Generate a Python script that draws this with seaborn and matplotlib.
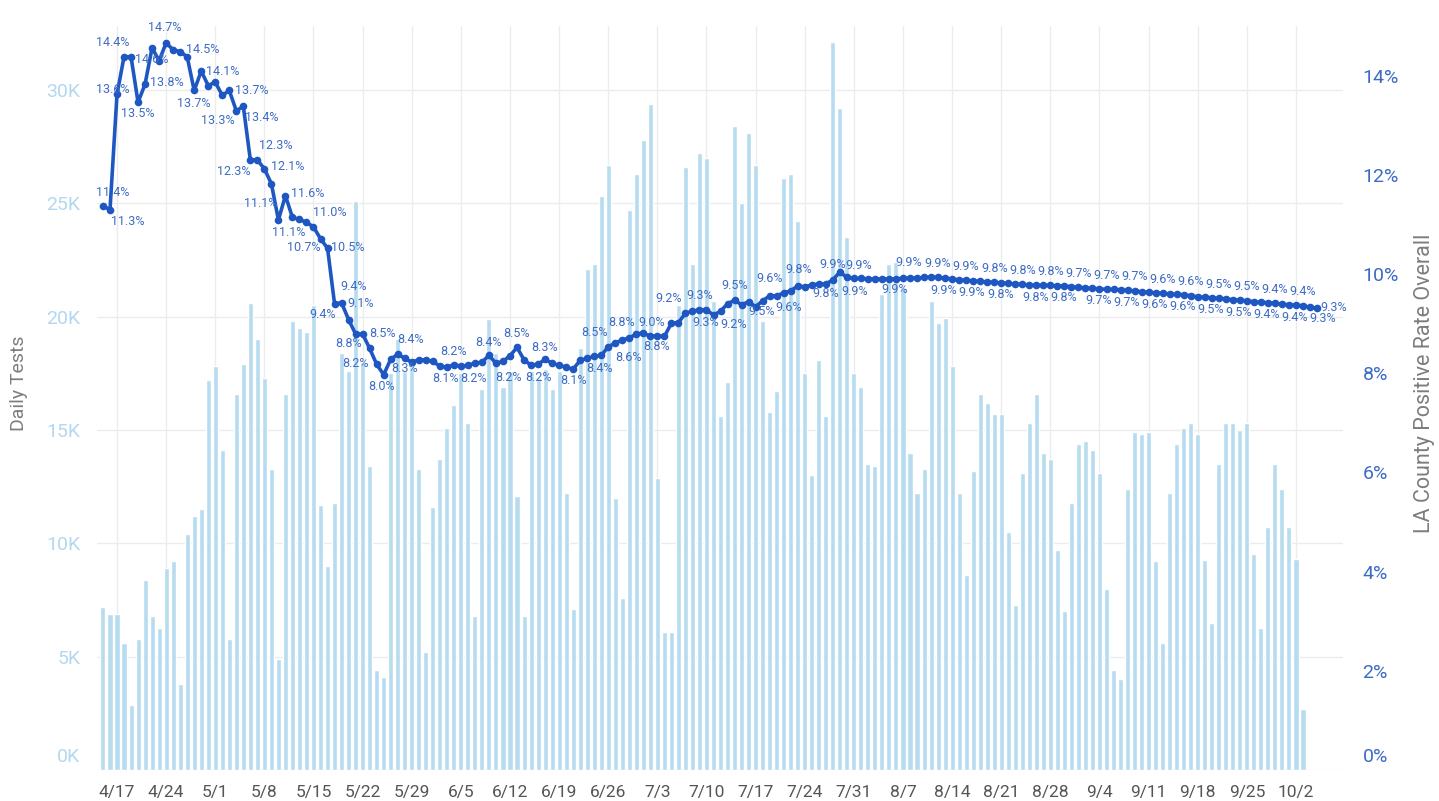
import numpy as np
import pandas as pd
import matplotlib
matplotlib.use('Agg')
import matplotlib.pyplot as plt
import matplotlib.transforms as mtransforms
import seaborn as sns

# Data
START_DATE = '2020-04-15'

# Daily tests, in thousands (4/15 .. 10/3)
daily_tests_k = [
    7.2, 6.9, 6.9, 5.6, 2.85, 5.8, 8.4, 6.8, 6.25, 8.9,
    9.2, 3.8, 10.4, 11.2, 11.5, 17.2, 17.8, 14.1, 5.8, 16.6,
    17.9, 20.6, 19.0, 17.3, 13.3, 4.9, 16.6, 19.8, 19.5, 19.3,
    20.5, 11.7, 9.0, 11.8, 18.4, 17.6, 25.1, 18.0, 13.4, 4.4,
    4.1, 17.5, 19.0, 17.6, 17.8, 13.3, 5.2, 11.6, 13.7, 15.1,
    16.1, 17.5, 15.3, 6.8, 16.8, 19.9, 18.4, 16.9, 17.6, 12.1,
    6.8, 17.6, 17.3, 17.7, 16.8, 17.6, 12.2, 7.1, 18.6, 22.1,
    22.3, 25.3, 26.7, 12.0, 7.6, 24.7, 26.3, 27.8, 29.4, 12.9,
    6.1, 6.1, 20.5, 26.6, 22.3, 27.2, 27.0, 20.7, 15.6, 17.1,
    28.4, 25.0, 28.1, 26.7, 19.8, 15.8, 16.7, 26.1, 26.3, 24.2,
    17.5, 13.0, 18.1, 15.6, 32.1, 29.2, 23.5, 17.5, 16.9, 13.5,
    13.4, 21.0, 22.3, 22.4, 21.3, 14.0, 12.2, 13.3, 20.7, 19.7,
    19.95, 17.8, 12.2, 8.6, 13.2, 16.6, 16.2, 15.7, 15.7, 10.5,
    7.3, 13.1, 15.3, 16.6, 14.0, 13.7, 9.7, 7.0, 11.8, 14.4,
    14.5, 14.1, 13.1, 8.0, 4.4, 4.0, 12.4, 14.9, 14.8, 14.9,
    9.2, 5.6, 12.2, 14.4, 15.1, 15.3, 14.8, 9.25, 6.5, 13.5,
    15.3, 15.3, 15.0, 15.3, 9.55, 6.25, 10.7, 13.5, 12.4, 10.7,
    9.3, 2.7,
]

# LA County positive rate overall, % (4/15 .. 10/5)
positive_rate = [
    11.38, 11.29, 13.62, 14.38, 14.38, 13.46, 13.83, 14.56, 14.30, 14.66,
    14.52, 14.48, 14.38, 13.70, 14.09, 13.80, 13.87, 13.60, 13.70, 13.29,
    13.38, 12.30, 12.30, 12.12, 11.82, 11.09, 11.58, 11.14, 11.10, 11.04,
    10.95, 10.71, 10.52, 9.40, 9.42, 9.08, 8.79, 8.79, 8.50, 8.18,
    7.97, 8.28, 8.38, 8.30, 8.22, 8.27, 8.27, 8.24, 8.14, 8.12,
    8.17, 8.14, 8.16, 8.20, 8.22, 8.36, 8.20, 8.24, 8.35, 8.52,
    8.27, 8.16, 8.18, 8.28, 8.20, 8.16, 8.12, 8.08, 8.26, 8.30,
    8.34, 8.36, 8.53, 8.61, 8.67, 8.71, 8.79, 8.81, 8.74, 8.76,
    8.74, 9.01, 9.02, 9.21, 9.25, 9.28, 9.28, 9.17, 9.25, 9.40,
    9.47, 9.38, 9.44, 9.34, 9.46, 9.56, 9.56, 9.62, 9.66, 9.76,
    9.74, 9.78, 9.80, 9.80, 9.88, 10.04, 9.93, 9.91, 9.91, 9.90,
    9.90, 9.90, 9.90, 9.90, 9.91, 9.92, 9.92, 9.93, 9.94, 9.93,
    9.91, 9.90, 9.88, 9.87, 9.86, 9.85, 9.84, 9.83, 9.82, 9.81,
    9.80, 9.79, 9.78, 9.77, 9.77, 9.77, 9.76, 9.76, 9.74, 9.73,
    9.72, 9.71, 9.70, 9.69, 9.69, 9.68, 9.67, 9.66, 9.64, 9.63,
    9.62, 9.61, 9.60, 9.59, 9.58, 9.56, 9.54, 9.53, 9.52, 9.51,
    9.50, 9.48, 9.47, 9.46, 9.44, 9.43, 9.42, 9.41, 9.39, 9.38,
    9.37, 9.36, 9.33, 9.31,
]

# Which points carry a value label, and where the label sits (pixel offset)
rate_labels = [
    (0, 10, -13), (1, 18, 11), (2, -4, -5), (3, -11, -14), (5, 0, 11),
    (6, 22, -2), (7, 0, 12), (9, -1, -15), (11, 23, -2), (13, 0, 13),
    (14, 21, 0), (18, 22, 0), (19, -18, 10), (20, 18, 11), (21, -17, 12),
    (22, 18, -14), (23, 23, -2), (25, -18, -16), (26, 22, -2), (27, -4, 15),
    (29, 23, -10), (31, -17, 9), (32, 20, -1), (33, -12, 11), (34, 12, -16),
    (35, 12, -16), (36, -7, 9), (38, 13, -15), (39, -21, -1), (40, -2, 12),
    (42, 13, -15), (43, 0, 10), (49, -1, 11), (50, 0, -13), (53, -1, 15),
    (55, 0, -13), (57, 6, 16), (59, -1, -14), (62, 0, 13), (63, -1, -12),
    (67, 0, 11), (71, -2, 13), (72, -14, -14), (73, 13, 15), (76, -15, -12),
    (79, -1, 11), (81, -20, -1), (83, -17, -15), (85, 0, -14), (86, -1, 13),
    (87, 20, 9), (90, 0, -15), (94, -1, 11), (95, 0, -17), (97, 5, 15),
    (99, 1, -16), (103, 0, 10), (104, 0, -15), (107, 1, 13), (108, -2, -13),
    (113, -1, 11), (115, -1, -15),
]
labels_above = [119, 123, 127, 131, 135, 139, 143, 147, 151, 155, 159, 163, 167, 171]
labels_below = [120, 124, 128, 133, 137, 142, 146, 150, 154, 158, 162, 166, 170]
rate_labels += [(i, 0, -14) for i in labels_above]
rate_labels += [(i, -1, 12) for i in labels_below]
rate_labels += [(172, 13, 11), (173, 17, -1)]

# Colours
BAR_COLOR = '#b7dcef'
LINE_COLOR = '#1f57c2'
LABEL_COLOR = '#3d6cc3'
LEFT_TICK_COLOR = '#b3d8ee'
RIGHT_TICK_COLOR = '#3d6bc3'
TITLE_COLOR = '#7d7d7d'

if __name__ == '__main__':
    sns.set_style('white')
    plt.rcParams['font.family'] = ['Roboto', 'DejaVu Sans']

    dates = pd.date_range(START_DATE, periods=len(positive_rate), freq='D')
    bars_df = pd.DataFrame({'day': np.arange(len(daily_tests_k)),
                            'tests': np.array(daily_tests_k) * 1000})
    rate_df = pd.DataFrame({'day': np.arange(len(positive_rate)),
                            'rate': positive_rate})

    fig = plt.figure(figsize=(14.39, 8.01), dpi=100)
    ax = fig.add_axes([97 / 1439, 31 / 801, 1246 / 1439, 744 / 801])

    # Bars: daily tests
    sns.barplot(data=bars_df, x='day', y='tests', color=BAR_COLOR,
                saturation=1, width=0.72, errorbar=None, ax=ax, zorder=2)

    # Line: positive rate
    ax2 = ax.twinx()
    sns.lineplot(data=rate_df, x='day', y='rate', ax=ax2, color=LINE_COLOR,
                 linewidth=2.6, marker='o', markersize=5.5,
                 markeredgewidth=0, zorder=3)

    xlim = (-0.85, 176.7)
    ax.set_xlim(*xlim)
    ax2.set_xlim(*xlim)
    ax.set_ylim(0, 32820)
    ax2.set_ylim(0, 15.0)

    # Ticks
    tick_idx = list(range(2, len(daily_tests_k), 7))
    ax.set_xticks(tick_idx)
    ax.set_xticklabels([f'{dates[i].month}/{dates[i].day}' for i in tick_idx])
    ax.set_yticks(range(0, 30001, 5000))
    ax.set_yticklabels([f'{v // 1000}K' for v in range(0, 30001, 5000)])
    ax2.set_yticks(range(0, 15, 2))
    ax2.set_yticklabels([f'{v}%' for v in range(0, 15, 2)])

    ax.tick_params(axis='x', length=0, pad=11, labelsize=12.5, labelcolor='#555555')
    ax.tick_params(axis='y', length=0, pad=12, labelsize=14, labelcolor=LEFT_TICK_COLOR)
    ax2.tick_params(axis='y', length=0, pad=14, labelsize=14, labelcolor=RIGHT_TICK_COLOR)

    # lift the bottom "0" labels a bit, like the original
    lift = mtransforms.ScaledTranslation(0, 15 / 100, fig.dpi_scale_trans)
    for lab in (ax.get_yticklabels()[0], ax2.get_yticklabels()[0]):
        lab.set_transform(lab.get_transform() + lift)

    # Grid
    ax.set_axisbelow(True)
    ax.grid(axis='y', color='#ececec', linewidth=1)
    ax.grid(axis='x', color='#ececec', linewidth=1)
    ax2.grid(False)
    for a in (ax, ax2):
        for s in a.spines.values():
            s.set_visible(False)

    # Axis titles
    ax.set_xlabel('')
    ax2.set_xlabel('')
    ax.set_ylabel('Daily Tests', fontsize=14, color=TITLE_COLOR)
    ax.yaxis.set_label_coords(-0.055, 0.52)
    ax2.set_ylabel('LA County Positive Rate Overall', fontsize=15.5,
                   color=TITLE_COLOR, rotation=90)
    ax2.yaxis.set_label_coords(1.057, 0.52)

    # Value labels on the line
    for i, dx, dy in rate_labels:
        v = positive_rate[i]
        ax2.annotate(f'{v:.1f}%', xy=(i, v), xytext=(dx, -dy),
                     textcoords='offset pixels', ha='center', va='center',
                     fontsize=9, color=LABEL_COLOR, zorder=4)

    fig.savefig('out.png', dpi=100)
